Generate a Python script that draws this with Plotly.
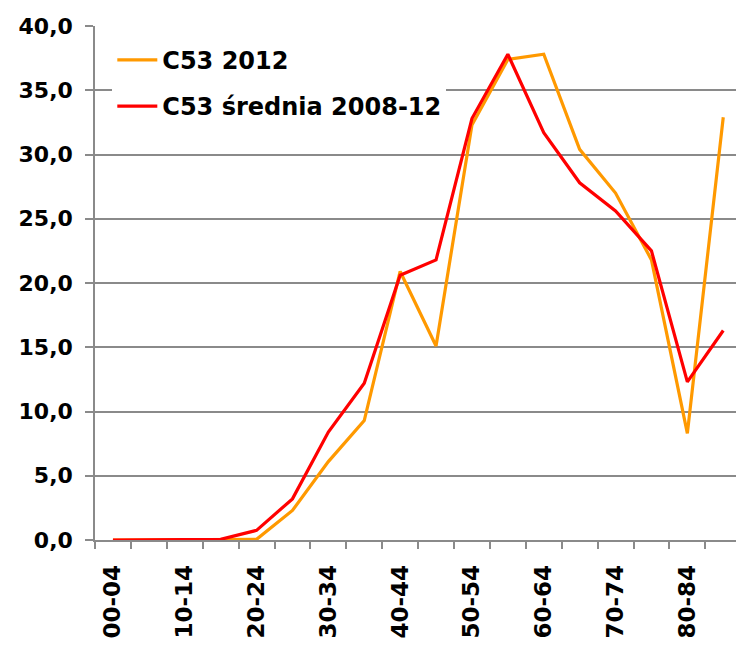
import plotly.graph_objects as go

# Age groups (5-year bands)
age_groups = ["00-04", "05-09", "10-14", "15-19", "20-24", "25-29", "30-34",
              "35-39", "40-44", "45-49", "50-54", "55-59", "60-64", "65-69",
              "70-74", "75-79", "80-84", "85+"]

# Rates per age group
c53_2012 = [0.0, 0.0, 0.0, 0.0, 0.05, 2.3, 6.1, 9.3, 20.9, 15.1, 32.3, 37.4,
            37.8, 30.4, 27.0, 21.8, 8.3, 32.9]
c53_avg_2008_12 = [0.0, 0.0, 0.0, 0.05, 0.75, 3.2, 8.4, 12.2, 20.6, 21.8, 32.8,
                   37.8, 31.7, 27.8, 25.6, 22.5, 12.3, 16.3]

# Only every other age group is labelled on the axis
shown_labels = age_groups[::2]

series_names = ["C53 2012", "C53 średnia 2008-12"]
series_colors = ["#FF9900", "#FF0000"]

x_pos = list(range(len(age_groups)))
font_family = "DejaVu Sans"
grid_color = "#8A8A8A"

fig = go.Figure()
for name, values, color in zip(series_names, [c53_2012, c53_avg_2008_12], series_colors):
    fig.add_trace(go.Scatter(
        x=x_pos, y=values, mode="lines", name=name, legendgroup=name,
        line=dict(color=color, width=3.2),
        cliponaxis=False,
    ))

fig.update_layout(
    width=736, height=652,
    margin=dict(l=95, r=0, t=26, b=112, pad=0),
    paper_bgcolor="white", plot_bgcolor="white",
    separators=", ",
    showlegend=True,
    legend=dict(
        x=0.027, y=0.977, xanchor="left", yanchor="top",
        bgcolor="white", borderwidth=0,
        font=dict(family=font_family, size=24, color="black", weight="bold"),
        tracegroupgap=12,
        itemwidth=40,
    ),
    xaxis=dict(
        range=[-0.5, 17.355],
        tickmode="array",
        tickvals=x_pos[::2],
        ticktext=shown_labels,
        tickangle=-90,
        ticks="",
        ticklabelstandoff=14,
        tickfont=dict(family=font_family, size=23, color="black", weight="bold"),
        showgrid=False,
        zeroline=False,
        showline=True, linecolor=grid_color, linewidth=1.5,
        minor=dict(tickmode="linear", tick0=-0.5, dtick=1, ticks="outside",
                   ticklen=7, tickwidth=1.5, tickcolor=grid_color, showgrid=False),
        automargin=False,
        fixedrange=True,
    ),
    yaxis=dict(
        range=[0, 40],
        tickmode="linear", tick0=0, dtick=5,
        tickformat=".1f",
        ticks="outside", ticklen=8, tickwidth=1.5, tickcolor=grid_color,
        ticklabelstandoff=8,
        tickfont=dict(family=font_family, size=22, color="black", weight="bold"),
        showgrid=True, gridcolor=grid_color, gridwidth=1.5,
        zeroline=False,
        showline=True, linecolor=grid_color, linewidth=1.5,
        automargin=False,
        fixedrange=True,
    ),
)

fig.write_html("out.html")
